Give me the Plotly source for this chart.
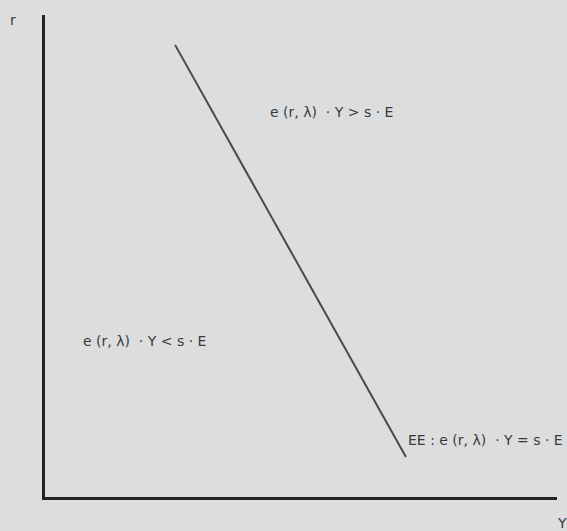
import plotly.graph_objects as go

# EE curve endpoints (abstract units)
curve_x = [25.4, 70.5]
curve_y = [93.8, 8.3]

# Region / curve labels (positions in paper fractions of the plot area)
label_texts = ["e (r, λ)  · Y > s · E", "e (r, λ)  · Y < s · E", "EE : e (r, λ)  · Y = s · E"]
label_x = [0.5605, 0.1953, 1.0156]
label_y = [0.7988, 0.3237, 0.1183]
label_anchor = ["center", "center", "right"]

axis_titles = ["Y", "r"]

BG = "#dcdddf"
TXT = "#3a3a3a"
FONT = "DejaVu Sans"
FS = 14

fig = go.Figure()
fig.add_trace(go.Scatter(x=curve_x, y=curve_y, mode="lines",
                         line=dict(color="#4a4a4a", width=2), hoverinfo="skip"))

for t, x, y, a in zip(label_texts, label_x, label_y, label_anchor):
    fig.add_annotation(x=x, y=y, xref="paper", yref="paper", text=t, showarrow=False,
                       xanchor=a, yanchor="middle",
                       font=dict(family=FONT, size=FS, color=TXT))

fig.add_annotation(x=(562 - 45) / 512, y=(497 - 523) / 482, xref="paper", yref="paper",
                   text=axis_titles[0], showarrow=False,
                   xanchor="center", yanchor="middle", font=dict(family=FONT, size=FS, color=TXT))
fig.add_annotation(x=(13 - 45) / 512, y=(497 - 20) / 482, xref="paper", yref="paper",
                   text=axis_titles[1], showarrow=False,
                   xanchor="center", yanchor="middle", font=dict(family=FONT, size=FS, color=TXT))

fig.update_layout(
    width=567, height=531,
    margin=dict(l=45, r=10, t=15, b=34),
    paper_bgcolor=BG, plot_bgcolor=BG,
    showlegend=False,
    xaxis=dict(range=[0, 100], showgrid=False, zeroline=False, showticklabels=False,
               ticks="", showline=True, linecolor="#222222", linewidth=3, mirror=False),
    yaxis=dict(range=[0, 100], showgrid=False, zeroline=False, showticklabels=False,
               ticks="", showline=True, linecolor="#222222", linewidth=3, mirror=False),
)

fig.write_html("out.html", config={"displayModeBar": False})

# remove the browser's default body margin so the figure fills the window
with open("out.html", encoding="utf-8") as f:
    html = f.read()
html = html.replace("<head>", "<head><style>html,body{margin:0;padding:0;background:%s;}</style>" % BG, 1)
with open("out.html", "w", encoding="utf-8") as f:
    f.write(html)
